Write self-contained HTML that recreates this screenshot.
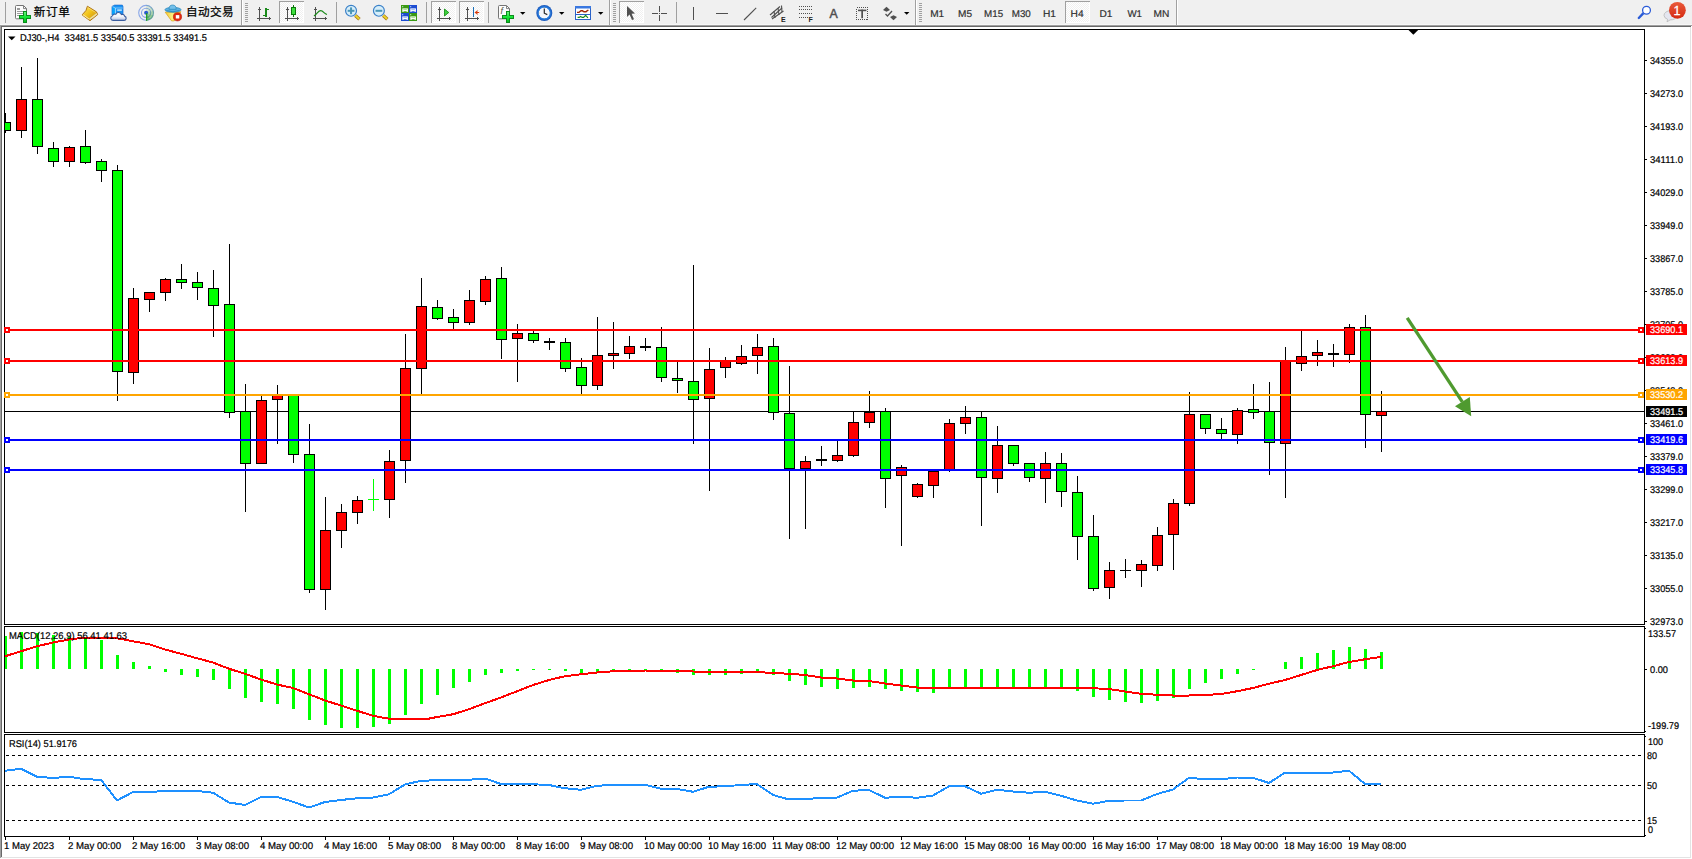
<!DOCTYPE html>
<html lang="zh"><head><meta charset="utf-8"><title>DJ30-,H4</title>
<style>html,body{margin:0;padding:0;background:#f0f0f0;overflow:hidden}body{width:1692px;height:859px;position:relative}svg{position:absolute;left:0;top:0;display:block}svg text{font-family:"Liberation Sans","Noto Sans CJK SC",sans-serif}.cr{shape-rendering:crispEdges}</style></head><body>
<svg width="1692" height="859" viewBox="0 0 1692 859">
<g class="cr">
<rect x="0" y="0" width="1692" height="25" fill="#f0f0f0"/>
<rect x="0" y="24" width="1692" height="1" fill="#f7f7f7"/>
<rect x="0" y="25" width="1692" height="1" fill="#a0a0a0"/>
<rect x="0" y="26" width="1692" height="1" fill="#696969"/>
<rect x="0" y="27" width="1692" height="832" fill="#ffffff"/>
<rect x="0" y="25" width="1" height="834" fill="#a0a0a0"/>
<rect x="1" y="26" width="1" height="833" fill="#696969"/>
<rect x="1690" y="27" width="1" height="832" fill="#e3e3e3"/>
<rect x="1691" y="26" width="1" height="833" fill="#ffffff"/>
<rect x="1" y="857" width="1690" height="1" fill="#e3e3e3"/>
<rect x="0" y="858" width="1692" height="1" fill="#ffffff"/>
<rect x="4" y="29" width="1641" height="1" fill="#000"/>
<rect x="4" y="624" width="1641" height="1" fill="#000"/>
<rect x="4" y="29" width="1" height="596" fill="#000"/>
<rect x="1644" y="29" width="1" height="596" fill="#000"/>
<rect x="4" y="626" width="1641" height="1" fill="#000"/>
<rect x="4" y="732" width="1641" height="1" fill="#000"/>
<rect x="4" y="626" width="1" height="107" fill="#000"/>
<rect x="1644" y="626" width="1" height="107" fill="#000"/>
<rect x="4" y="734" width="1641" height="1" fill="#000"/>
<rect x="4" y="836" width="1641" height="1" fill="#000"/>
<rect x="4" y="734" width="1" height="103" fill="#000"/>
<rect x="1644" y="734" width="1" height="103" fill="#000"/>
</g>
<defs><clipPath id="cm"><rect x="5" y="30" width="1639" height="594"/></clipPath><clipPath id="cd"><rect x="5" y="627" width="1639" height="105"/></clipPath><clipPath id="cs"><rect x="5" y="735" width="1639" height="101"/></clipPath></defs>
<g class="cr" clip-path="url(#cm)">
<rect x="5" y="411" width="1639" height="1" fill="#000"/>
<rect x="5" y="113" width="1" height="20" fill="#000"/>
<rect x="0" y="122" width="11" height="9" fill="#000"/>
<rect x="1" y="123" width="9" height="7" fill="#00ff00"/>
<rect x="21" y="67" width="1" height="71" fill="#000"/>
<rect x="16" y="99" width="11" height="32" fill="#000"/>
<rect x="17" y="100" width="9" height="30" fill="#ff0000"/>
<rect x="37" y="58" width="1" height="96" fill="#000"/>
<rect x="32" y="99" width="11" height="48" fill="#000"/>
<rect x="33" y="100" width="9" height="46" fill="#00ff00"/>
<rect x="53" y="142" width="1" height="25" fill="#000"/>
<rect x="48" y="148" width="11" height="14" fill="#000"/>
<rect x="49" y="149" width="9" height="12" fill="#00ff00"/>
<rect x="69" y="146" width="1" height="21" fill="#000"/>
<rect x="64" y="147" width="11" height="15" fill="#000"/>
<rect x="65" y="148" width="9" height="13" fill="#ff0000"/>
<rect x="85" y="130" width="1" height="34" fill="#000"/>
<rect x="80" y="146" width="11" height="17" fill="#000"/>
<rect x="81" y="147" width="9" height="15" fill="#00ff00"/>
<rect x="101" y="159" width="1" height="23" fill="#000"/>
<rect x="96" y="161" width="11" height="10" fill="#000"/>
<rect x="97" y="162" width="9" height="8" fill="#00ff00"/>
<rect x="117" y="165" width="1" height="236" fill="#000"/>
<rect x="112" y="170" width="11" height="202" fill="#000"/>
<rect x="113" y="171" width="9" height="200" fill="#00ff00"/>
<rect x="133" y="288" width="1" height="96" fill="#000"/>
<rect x="128" y="298" width="11" height="75" fill="#000"/>
<rect x="129" y="299" width="9" height="73" fill="#ff0000"/>
<rect x="149" y="292" width="1" height="20" fill="#000"/>
<rect x="144" y="292" width="11" height="8" fill="#000"/>
<rect x="145" y="293" width="9" height="6" fill="#ff0000"/>
<rect x="165" y="278" width="1" height="23" fill="#000"/>
<rect x="160" y="279" width="11" height="14" fill="#000"/>
<rect x="161" y="280" width="9" height="12" fill="#ff0000"/>
<rect x="181" y="264" width="1" height="25" fill="#000"/>
<rect x="176" y="279" width="11" height="4" fill="#000"/>
<rect x="177" y="280" width="9" height="2" fill="#00ff00"/>
<rect x="197" y="272" width="1" height="28" fill="#000"/>
<rect x="192" y="282" width="11" height="6" fill="#000"/>
<rect x="193" y="283" width="9" height="4" fill="#00ff00"/>
<rect x="213" y="270" width="1" height="67" fill="#000"/>
<rect x="208" y="288" width="11" height="18" fill="#000"/>
<rect x="209" y="289" width="9" height="16" fill="#00ff00"/>
<rect x="229" y="244" width="1" height="174" fill="#000"/>
<rect x="224" y="304" width="11" height="109" fill="#000"/>
<rect x="225" y="305" width="9" height="107" fill="#00ff00"/>
<rect x="245" y="384" width="1" height="128" fill="#000"/>
<rect x="240" y="411" width="11" height="53" fill="#000"/>
<rect x="241" y="412" width="9" height="51" fill="#00ff00"/>
<rect x="261" y="395" width="1" height="69" fill="#000"/>
<rect x="256" y="400" width="11" height="64" fill="#000"/>
<rect x="257" y="401" width="9" height="62" fill="#ff0000"/>
<rect x="277" y="385" width="1" height="59" fill="#000"/>
<rect x="272" y="395" width="11" height="5" fill="#000"/>
<rect x="273" y="396" width="9" height="3" fill="#ff0000"/>
<rect x="293" y="395" width="1" height="68" fill="#000"/>
<rect x="288" y="395" width="11" height="60" fill="#000"/>
<rect x="289" y="396" width="9" height="58" fill="#00ff00"/>
<rect x="309" y="424" width="1" height="169" fill="#000"/>
<rect x="304" y="454" width="11" height="136" fill="#000"/>
<rect x="305" y="455" width="9" height="134" fill="#00ff00"/>
<rect x="325" y="497" width="1" height="113" fill="#000"/>
<rect x="320" y="530" width="11" height="60" fill="#000"/>
<rect x="321" y="531" width="9" height="58" fill="#ff0000"/>
<rect x="341" y="504" width="1" height="44" fill="#000"/>
<rect x="336" y="512" width="11" height="19" fill="#000"/>
<rect x="337" y="513" width="9" height="17" fill="#ff0000"/>
<rect x="357" y="496" width="1" height="28" fill="#000"/>
<rect x="352" y="500" width="11" height="13" fill="#000"/>
<rect x="353" y="501" width="9" height="11" fill="#ff0000"/>
<rect x="373" y="479" width="1" height="32" fill="#00ff00"/>
<rect x="368" y="499" width="11" height="1" fill="#00ff00"/>
<rect x="389" y="450" width="1" height="68" fill="#000"/>
<rect x="384" y="461" width="11" height="39" fill="#000"/>
<rect x="385" y="462" width="9" height="37" fill="#ff0000"/>
<rect x="405" y="334" width="1" height="149" fill="#000"/>
<rect x="400" y="368" width="11" height="93" fill="#000"/>
<rect x="401" y="369" width="9" height="91" fill="#ff0000"/>
<rect x="421" y="278" width="1" height="116" fill="#000"/>
<rect x="416" y="306" width="11" height="63" fill="#000"/>
<rect x="417" y="307" width="9" height="61" fill="#ff0000"/>
<rect x="437" y="300" width="1" height="20" fill="#000"/>
<rect x="432" y="307" width="11" height="12" fill="#000"/>
<rect x="433" y="308" width="9" height="10" fill="#00ff00"/>
<rect x="453" y="309" width="1" height="20" fill="#000"/>
<rect x="448" y="317" width="11" height="6" fill="#000"/>
<rect x="449" y="318" width="9" height="4" fill="#00ff00"/>
<rect x="469" y="290" width="1" height="35" fill="#000"/>
<rect x="464" y="300" width="11" height="23" fill="#000"/>
<rect x="465" y="301" width="9" height="21" fill="#ff0000"/>
<rect x="485" y="276" width="1" height="29" fill="#000"/>
<rect x="480" y="279" width="11" height="23" fill="#000"/>
<rect x="481" y="280" width="9" height="21" fill="#ff0000"/>
<rect x="501" y="267" width="1" height="92" fill="#000"/>
<rect x="496" y="278" width="11" height="62" fill="#000"/>
<rect x="497" y="279" width="9" height="60" fill="#00ff00"/>
<rect x="517" y="324" width="1" height="58" fill="#000"/>
<rect x="512" y="333" width="11" height="6" fill="#000"/>
<rect x="513" y="334" width="9" height="4" fill="#ff0000"/>
<rect x="533" y="331" width="1" height="12" fill="#000"/>
<rect x="528" y="333" width="11" height="8" fill="#000"/>
<rect x="529" y="334" width="9" height="6" fill="#00ff00"/>
<rect x="549" y="338" width="1" height="12" fill="#000"/>
<rect x="544" y="341" width="11" height="2" fill="#000"/>
<rect x="565" y="338" width="1" height="34" fill="#000"/>
<rect x="560" y="342" width="11" height="27" fill="#000"/>
<rect x="561" y="343" width="9" height="25" fill="#00ff00"/>
<rect x="581" y="358" width="1" height="36" fill="#000"/>
<rect x="576" y="367" width="11" height="19" fill="#000"/>
<rect x="577" y="368" width="9" height="17" fill="#00ff00"/>
<rect x="597" y="317" width="1" height="73" fill="#000"/>
<rect x="592" y="355" width="11" height="31" fill="#000"/>
<rect x="593" y="356" width="9" height="29" fill="#ff0000"/>
<rect x="613" y="322" width="1" height="47" fill="#000"/>
<rect x="608" y="353" width="11" height="3" fill="#000"/>
<rect x="609" y="354" width="9" height="1" fill="#ff0000"/>
<rect x="629" y="336" width="1" height="23" fill="#000"/>
<rect x="624" y="346" width="11" height="8" fill="#000"/>
<rect x="625" y="347" width="9" height="6" fill="#ff0000"/>
<rect x="645" y="338" width="1" height="13" fill="#000"/>
<rect x="640" y="346" width="11" height="2" fill="#000"/>
<rect x="661" y="327" width="1" height="55" fill="#000"/>
<rect x="656" y="347" width="11" height="31" fill="#000"/>
<rect x="657" y="348" width="9" height="29" fill="#00ff00"/>
<rect x="677" y="362" width="1" height="31" fill="#000"/>
<rect x="672" y="378" width="11" height="3" fill="#000"/>
<rect x="673" y="379" width="9" height="1" fill="#00ff00"/>
<rect x="693" y="265" width="1" height="179" fill="#000"/>
<rect x="688" y="381" width="11" height="19" fill="#000"/>
<rect x="689" y="382" width="9" height="17" fill="#00ff00"/>
<rect x="709" y="348" width="1" height="143" fill="#000"/>
<rect x="704" y="369" width="11" height="30" fill="#000"/>
<rect x="705" y="370" width="9" height="28" fill="#ff0000"/>
<rect x="725" y="357" width="1" height="21" fill="#000"/>
<rect x="720" y="361" width="11" height="7" fill="#000"/>
<rect x="721" y="362" width="9" height="5" fill="#ff0000"/>
<rect x="741" y="345" width="1" height="20" fill="#000"/>
<rect x="736" y="356" width="11" height="8" fill="#000"/>
<rect x="737" y="357" width="9" height="6" fill="#ff0000"/>
<rect x="757" y="334" width="1" height="40" fill="#000"/>
<rect x="752" y="347" width="11" height="9" fill="#000"/>
<rect x="753" y="348" width="9" height="7" fill="#ff0000"/>
<rect x="773" y="338" width="1" height="82" fill="#000"/>
<rect x="768" y="346" width="11" height="67" fill="#000"/>
<rect x="769" y="347" width="9" height="65" fill="#00ff00"/>
<rect x="789" y="366" width="1" height="173" fill="#000"/>
<rect x="784" y="413" width="11" height="56" fill="#000"/>
<rect x="785" y="414" width="9" height="54" fill="#00ff00"/>
<rect x="805" y="456" width="1" height="73" fill="#000"/>
<rect x="800" y="461" width="11" height="8" fill="#000"/>
<rect x="801" y="462" width="9" height="6" fill="#ff0000"/>
<rect x="821" y="446" width="1" height="20" fill="#000"/>
<rect x="816" y="459" width="11" height="2" fill="#000"/>
<rect x="837" y="441" width="1" height="21" fill="#000"/>
<rect x="832" y="455" width="11" height="6" fill="#000"/>
<rect x="833" y="456" width="9" height="4" fill="#ff0000"/>
<rect x="853" y="411" width="1" height="46" fill="#000"/>
<rect x="848" y="422" width="11" height="34" fill="#000"/>
<rect x="849" y="423" width="9" height="32" fill="#ff0000"/>
<rect x="869" y="391" width="1" height="37" fill="#000"/>
<rect x="864" y="412" width="11" height="11" fill="#000"/>
<rect x="865" y="413" width="9" height="9" fill="#ff0000"/>
<rect x="885" y="408" width="1" height="100" fill="#000"/>
<rect x="880" y="411" width="11" height="68" fill="#000"/>
<rect x="881" y="412" width="9" height="66" fill="#00ff00"/>
<rect x="901" y="465" width="1" height="81" fill="#000"/>
<rect x="896" y="467" width="11" height="9" fill="#000"/>
<rect x="897" y="468" width="9" height="7" fill="#ff0000"/>
<rect x="917" y="483" width="1" height="15" fill="#000"/>
<rect x="912" y="484" width="11" height="13" fill="#000"/>
<rect x="913" y="485" width="9" height="11" fill="#ff0000"/>
<rect x="933" y="471" width="1" height="27" fill="#000"/>
<rect x="928" y="471" width="11" height="15" fill="#000"/>
<rect x="929" y="472" width="9" height="13" fill="#ff0000"/>
<rect x="949" y="419" width="1" height="53" fill="#000"/>
<rect x="944" y="423" width="11" height="47" fill="#000"/>
<rect x="945" y="424" width="9" height="45" fill="#ff0000"/>
<rect x="965" y="406" width="1" height="28" fill="#000"/>
<rect x="960" y="417" width="11" height="7" fill="#000"/>
<rect x="961" y="418" width="9" height="5" fill="#ff0000"/>
<rect x="981" y="411" width="1" height="115" fill="#000"/>
<rect x="976" y="417" width="11" height="61" fill="#000"/>
<rect x="977" y="418" width="9" height="59" fill="#00ff00"/>
<rect x="997" y="426" width="1" height="67" fill="#000"/>
<rect x="992" y="445" width="11" height="34" fill="#000"/>
<rect x="993" y="446" width="9" height="32" fill="#ff0000"/>
<rect x="1013" y="445" width="1" height="21" fill="#000"/>
<rect x="1008" y="445" width="11" height="19" fill="#000"/>
<rect x="1009" y="446" width="9" height="17" fill="#00ff00"/>
<rect x="1029" y="463" width="1" height="19" fill="#000"/>
<rect x="1024" y="463" width="11" height="15" fill="#000"/>
<rect x="1025" y="464" width="9" height="13" fill="#00ff00"/>
<rect x="1045" y="452" width="1" height="51" fill="#000"/>
<rect x="1040" y="463" width="11" height="16" fill="#000"/>
<rect x="1041" y="464" width="9" height="14" fill="#ff0000"/>
<rect x="1061" y="453" width="1" height="54" fill="#000"/>
<rect x="1056" y="463" width="11" height="29" fill="#000"/>
<rect x="1057" y="464" width="9" height="27" fill="#00ff00"/>
<rect x="1077" y="476" width="1" height="84" fill="#000"/>
<rect x="1072" y="492" width="11" height="45" fill="#000"/>
<rect x="1073" y="493" width="9" height="43" fill="#00ff00"/>
<rect x="1093" y="515" width="1" height="76" fill="#000"/>
<rect x="1088" y="536" width="11" height="53" fill="#000"/>
<rect x="1089" y="537" width="9" height="51" fill="#00ff00"/>
<rect x="1109" y="562" width="1" height="37" fill="#000"/>
<rect x="1104" y="570" width="11" height="18" fill="#000"/>
<rect x="1105" y="571" width="9" height="16" fill="#ff0000"/>
<rect x="1125" y="559" width="1" height="19" fill="#000"/>
<rect x="1120" y="570" width="11" height="1" fill="#000"/>
<rect x="1141" y="560" width="1" height="27" fill="#000"/>
<rect x="1136" y="564" width="11" height="7" fill="#000"/>
<rect x="1137" y="565" width="9" height="5" fill="#ff0000"/>
<rect x="1157" y="527" width="1" height="44" fill="#000"/>
<rect x="1152" y="535" width="11" height="31" fill="#000"/>
<rect x="1153" y="536" width="9" height="29" fill="#ff0000"/>
<rect x="1173" y="499" width="1" height="71" fill="#000"/>
<rect x="1168" y="503" width="11" height="32" fill="#000"/>
<rect x="1169" y="504" width="9" height="30" fill="#ff0000"/>
<rect x="1189" y="392" width="1" height="114" fill="#000"/>
<rect x="1184" y="414" width="11" height="90" fill="#000"/>
<rect x="1185" y="415" width="9" height="88" fill="#ff0000"/>
<rect x="1205" y="414" width="1" height="20" fill="#000"/>
<rect x="1200" y="414" width="11" height="15" fill="#000"/>
<rect x="1201" y="415" width="9" height="13" fill="#00ff00"/>
<rect x="1221" y="418" width="1" height="21" fill="#000"/>
<rect x="1216" y="429" width="11" height="5" fill="#000"/>
<rect x="1217" y="430" width="9" height="3" fill="#00ff00"/>
<rect x="1237" y="408" width="1" height="36" fill="#000"/>
<rect x="1232" y="410" width="11" height="25" fill="#000"/>
<rect x="1233" y="411" width="9" height="23" fill="#ff0000"/>
<rect x="1253" y="384" width="1" height="35" fill="#000"/>
<rect x="1248" y="409" width="11" height="4" fill="#000"/>
<rect x="1249" y="410" width="9" height="2" fill="#00ff00"/>
<rect x="1269" y="382" width="1" height="93" fill="#000"/>
<rect x="1264" y="411" width="11" height="32" fill="#000"/>
<rect x="1265" y="412" width="9" height="30" fill="#00ff00"/>
<rect x="1285" y="347" width="1" height="151" fill="#000"/>
<rect x="1280" y="360" width="11" height="84" fill="#000"/>
<rect x="1281" y="361" width="9" height="82" fill="#ff0000"/>
<rect x="1301" y="331" width="1" height="40" fill="#000"/>
<rect x="1296" y="356" width="11" height="8" fill="#000"/>
<rect x="1297" y="357" width="9" height="6" fill="#ff0000"/>
<rect x="1317" y="340" width="1" height="26" fill="#000"/>
<rect x="1312" y="352" width="11" height="4" fill="#000"/>
<rect x="1313" y="353" width="9" height="2" fill="#ff0000"/>
<rect x="1333" y="344" width="1" height="23" fill="#000"/>
<rect x="1328" y="353" width="11" height="2" fill="#000"/>
<rect x="1349" y="324" width="1" height="39" fill="#000"/>
<rect x="1344" y="327" width="11" height="28" fill="#000"/>
<rect x="1345" y="328" width="9" height="26" fill="#ff0000"/>
<rect x="1365" y="315" width="1" height="133" fill="#000"/>
<rect x="1360" y="327" width="11" height="88" fill="#000"/>
<rect x="1361" y="328" width="9" height="86" fill="#00ff00"/>
<rect x="1381" y="391" width="1" height="61" fill="#000"/>
<rect x="1376" y="411" width="11" height="5" fill="#000"/>
<rect x="1377" y="412" width="9" height="3" fill="#ff0000"/>
<polygon points="1408.5,30 1418.2,30 1413.35,34.8" fill="#000" shape-rendering="auto"/>
</g>
<g class="cr">
<rect x="5" y="329" width="1639" height="2" fill="#ff0000"/>
<rect x="4" y="327" width="6" height="6" fill="#ff0000"/>
<rect x="6" y="329" width="2" height="2" fill="#fff"/>
<rect x="1638" y="327" width="6" height="6" fill="#ff0000"/>
<rect x="1640" y="329" width="2" height="2" fill="#fff"/>
<rect x="5" y="360" width="1639" height="2" fill="#ff0000"/>
<rect x="4" y="358" width="6" height="6" fill="#ff0000"/>
<rect x="6" y="360" width="2" height="2" fill="#fff"/>
<rect x="1638" y="358" width="6" height="6" fill="#ff0000"/>
<rect x="1640" y="360" width="2" height="2" fill="#fff"/>
<rect x="5" y="394" width="1639" height="2" fill="#ffa500"/>
<rect x="4" y="392" width="6" height="6" fill="#ffa500"/>
<rect x="6" y="394" width="2" height="2" fill="#fff"/>
<rect x="1638" y="392" width="6" height="6" fill="#ffa500"/>
<rect x="1640" y="394" width="2" height="2" fill="#fff"/>
<rect x="5" y="439" width="1639" height="2" fill="#0000ff"/>
<rect x="4" y="437" width="6" height="6" fill="#0000ff"/>
<rect x="6" y="439" width="2" height="2" fill="#fff"/>
<rect x="1638" y="437" width="6" height="6" fill="#0000ff"/>
<rect x="1640" y="439" width="2" height="2" fill="#fff"/>
<rect x="5" y="469" width="1639" height="2" fill="#0000ff"/>
<rect x="4" y="467" width="6" height="6" fill="#0000ff"/>
<rect x="6" y="469" width="2" height="2" fill="#fff"/>
<rect x="1638" y="467" width="6" height="6" fill="#0000ff"/>
<rect x="1640" y="469" width="2" height="2" fill="#fff"/>
</g>
<line x1="1407.2" y1="317.8" x2="1462.3" y2="401.8" stroke="#4f9a2f" stroke-width="3.3"/>
<polygon points="1471.2,416.2 1455,406.3 1469.8,397" fill="#4f9a2f"/>
<g class="cr">
<rect x="1645" y="60" width="2" height="1" fill="#000"/>
<rect x="1645" y="93" width="2" height="1" fill="#000"/>
<rect x="1645" y="126" width="2" height="1" fill="#000"/>
<rect x="1645" y="159" width="2" height="1" fill="#000"/>
<rect x="1645" y="192" width="2" height="1" fill="#000"/>
<rect x="1645" y="225" width="2" height="1" fill="#000"/>
<rect x="1645" y="258" width="2" height="1" fill="#000"/>
<rect x="1645" y="291" width="2" height="1" fill="#000"/>
<rect x="1645" y="324" width="2" height="1" fill="#000"/>
<rect x="1645" y="357" width="2" height="1" fill="#000"/>
<rect x="1645" y="390" width="2" height="1" fill="#000"/>
<rect x="1645" y="423" width="2" height="1" fill="#000"/>
<rect x="1645" y="456" width="2" height="1" fill="#000"/>
<rect x="1645" y="489" width="2" height="1" fill="#000"/>
<rect x="1645" y="522" width="2" height="1" fill="#000"/>
<rect x="1645" y="555" width="2" height="1" fill="#000"/>
<rect x="1645" y="588" width="2" height="1" fill="#000"/>
<rect x="1645" y="621" width="2" height="1" fill="#000"/>
</g>
<text x="1650" y="64" font-size="9.75" fill="#000" stroke="#000" stroke-width="0.2" text-rendering="geometricPrecision" xml:space="preserve" textLength="33" lengthAdjust="spacingAndGlyphs">34355.0</text>
<text x="1650" y="97" font-size="9.75" fill="#000" stroke="#000" stroke-width="0.2" text-rendering="geometricPrecision" xml:space="preserve" textLength="33" lengthAdjust="spacingAndGlyphs">34273.0</text>
<text x="1650" y="130" font-size="9.75" fill="#000" stroke="#000" stroke-width="0.2" text-rendering="geometricPrecision" xml:space="preserve" textLength="33" lengthAdjust="spacingAndGlyphs">34193.0</text>
<text x="1650" y="163" font-size="9.75" fill="#000" stroke="#000" stroke-width="0.2" text-rendering="geometricPrecision" xml:space="preserve" textLength="33" lengthAdjust="spacingAndGlyphs">34111.0</text>
<text x="1650" y="196" font-size="9.75" fill="#000" stroke="#000" stroke-width="0.2" text-rendering="geometricPrecision" xml:space="preserve" textLength="33" lengthAdjust="spacingAndGlyphs">34029.0</text>
<text x="1650" y="229" font-size="9.75" fill="#000" stroke="#000" stroke-width="0.2" text-rendering="geometricPrecision" xml:space="preserve" textLength="33" lengthAdjust="spacingAndGlyphs">33949.0</text>
<text x="1650" y="262" font-size="9.75" fill="#000" stroke="#000" stroke-width="0.2" text-rendering="geometricPrecision" xml:space="preserve" textLength="33" lengthAdjust="spacingAndGlyphs">33867.0</text>
<text x="1650" y="295" font-size="9.75" fill="#000" stroke="#000" stroke-width="0.2" text-rendering="geometricPrecision" xml:space="preserve" textLength="33" lengthAdjust="spacingAndGlyphs">33785.0</text>
<text x="1650" y="328" font-size="9.75" fill="#000" stroke="#000" stroke-width="0.2" text-rendering="geometricPrecision" xml:space="preserve" textLength="33" lengthAdjust="spacingAndGlyphs">33705.0</text>
<text x="1650" y="361" font-size="9.75" fill="#000" stroke="#000" stroke-width="0.2" text-rendering="geometricPrecision" xml:space="preserve" textLength="33" lengthAdjust="spacingAndGlyphs">33623.0</text>
<text x="1650" y="394" font-size="9.75" fill="#000" stroke="#000" stroke-width="0.2" text-rendering="geometricPrecision" xml:space="preserve" textLength="33" lengthAdjust="spacingAndGlyphs">33543.0</text>
<text x="1650" y="427" font-size="9.75" fill="#000" stroke="#000" stroke-width="0.2" text-rendering="geometricPrecision" xml:space="preserve" textLength="33" lengthAdjust="spacingAndGlyphs">33461.0</text>
<text x="1650" y="460" font-size="9.75" fill="#000" stroke="#000" stroke-width="0.2" text-rendering="geometricPrecision" xml:space="preserve" textLength="33" lengthAdjust="spacingAndGlyphs">33379.0</text>
<text x="1650" y="493" font-size="9.75" fill="#000" stroke="#000" stroke-width="0.2" text-rendering="geometricPrecision" xml:space="preserve" textLength="33" lengthAdjust="spacingAndGlyphs">33299.0</text>
<text x="1650" y="526" font-size="9.75" fill="#000" stroke="#000" stroke-width="0.2" text-rendering="geometricPrecision" xml:space="preserve" textLength="33" lengthAdjust="spacingAndGlyphs">33217.0</text>
<text x="1650" y="559" font-size="9.75" fill="#000" stroke="#000" stroke-width="0.2" text-rendering="geometricPrecision" xml:space="preserve" textLength="33" lengthAdjust="spacingAndGlyphs">33135.0</text>
<text x="1650" y="592" font-size="9.75" fill="#000" stroke="#000" stroke-width="0.2" text-rendering="geometricPrecision" xml:space="preserve" textLength="33" lengthAdjust="spacingAndGlyphs">33055.0</text>
<text x="1650" y="625" font-size="9.75" fill="#000" stroke="#000" stroke-width="0.2" text-rendering="geometricPrecision" xml:space="preserve" textLength="33" lengthAdjust="spacingAndGlyphs">32973.0</text>
<g class="cr">
<rect x="1646" y="324" width="41" height="11" fill="#ff0000"/>
<rect x="1646" y="355" width="41" height="11" fill="#ff0000"/>
<rect x="1646" y="389" width="41" height="11" fill="#ffa500"/>
<rect x="1646" y="434" width="41" height="11" fill="#0000ff"/>
<rect x="1646" y="464" width="41" height="11" fill="#0000ff"/>
<rect x="1646" y="406" width="41" height="11" fill="#000"/>
</g>
<text x="1650" y="333" font-size="9.75" fill="#fff" stroke="#fff" stroke-width="0.2" text-rendering="geometricPrecision" xml:space="preserve" textLength="33" lengthAdjust="spacingAndGlyphs">33690.1</text>
<text x="1650" y="364" font-size="9.75" fill="#fff" stroke="#fff" stroke-width="0.2" text-rendering="geometricPrecision" xml:space="preserve" textLength="33" lengthAdjust="spacingAndGlyphs">33613.9</text>
<text x="1650" y="398" font-size="9.75" fill="#fff" stroke="#fff" stroke-width="0.2" text-rendering="geometricPrecision" xml:space="preserve" textLength="33" lengthAdjust="spacingAndGlyphs">33530.2</text>
<text x="1650" y="443" font-size="9.75" fill="#fff" stroke="#fff" stroke-width="0.2" text-rendering="geometricPrecision" xml:space="preserve" textLength="33" lengthAdjust="spacingAndGlyphs">33419.6</text>
<text x="1650" y="473" font-size="9.75" fill="#fff" stroke="#fff" stroke-width="0.2" text-rendering="geometricPrecision" xml:space="preserve" textLength="33" lengthAdjust="spacingAndGlyphs">33345.8</text>
<text x="1650" y="415" font-size="9.75" fill="#fff" stroke="#fff" stroke-width="0.2" text-rendering="geometricPrecision" xml:space="preserve" textLength="33" lengthAdjust="spacingAndGlyphs">33491.5</text>
<polygon points="8,36.5 15.5,36.5 11.75,40.3" fill="#000"/>
<text x="20" y="41" font-size="9.75" fill="#000" stroke="#000" stroke-width="0.2" text-rendering="geometricPrecision" xml:space="preserve" textLength="187" lengthAdjust="spacingAndGlyphs">DJ30-,H4  33481.5 33540.5 33391.5 33491.5</text>
<g class="cr" clip-path="url(#cd)">
<rect x="4" y="636" width="3" height="33" fill="#00ff00"/>
<rect x="20" y="632" width="3" height="37" fill="#00ff00"/>
<rect x="36" y="633" width="3" height="36" fill="#00ff00"/>
<rect x="52" y="635" width="3" height="34" fill="#00ff00"/>
<rect x="68" y="637" width="3" height="32" fill="#00ff00"/>
<rect x="84" y="638" width="3" height="31" fill="#00ff00"/>
<rect x="100" y="640" width="3" height="29" fill="#00ff00"/>
<rect x="116" y="655" width="3" height="14" fill="#00ff00"/>
<rect x="132" y="662" width="3" height="7" fill="#00ff00"/>
<rect x="148" y="666" width="3" height="3" fill="#00ff00"/>
<rect x="164" y="669" width="3" height="3" fill="#00ff00"/>
<rect x="180" y="669" width="3" height="6" fill="#00ff00"/>
<rect x="196" y="669" width="3" height="8" fill="#00ff00"/>
<rect x="212" y="669" width="3" height="11" fill="#00ff00"/>
<rect x="228" y="669" width="3" height="20" fill="#00ff00"/>
<rect x="244" y="669" width="3" height="29" fill="#00ff00"/>
<rect x="260" y="669" width="3" height="33" fill="#00ff00"/>
<rect x="276" y="669" width="3" height="35" fill="#00ff00"/>
<rect x="292" y="669" width="3" height="40" fill="#00ff00"/>
<rect x="308" y="669" width="3" height="51" fill="#00ff00"/>
<rect x="324" y="669" width="3" height="56" fill="#00ff00"/>
<rect x="340" y="669" width="3" height="59" fill="#00ff00"/>
<rect x="356" y="669" width="3" height="59" fill="#00ff00"/>
<rect x="372" y="669" width="3" height="58" fill="#00ff00"/>
<rect x="388" y="669" width="3" height="55" fill="#00ff00"/>
<rect x="404" y="669" width="3" height="46" fill="#00ff00"/>
<rect x="420" y="669" width="3" height="35" fill="#00ff00"/>
<rect x="436" y="669" width="3" height="26" fill="#00ff00"/>
<rect x="452" y="669" width="3" height="19" fill="#00ff00"/>
<rect x="468" y="669" width="3" height="13" fill="#00ff00"/>
<rect x="484" y="669" width="3" height="6" fill="#00ff00"/>
<rect x="500" y="669" width="3" height="4" fill="#00ff00"/>
<rect x="516" y="669" width="3" height="2" fill="#00ff00"/>
<rect x="532" y="669" width="3" height="1" fill="#00ff00"/>
<rect x="548" y="669" width="3" height="1" fill="#00ff00"/>
<rect x="564" y="669" width="3" height="2" fill="#00ff00"/>
<rect x="580" y="669" width="3" height="5" fill="#00ff00"/>
<rect x="596" y="669" width="3" height="4" fill="#00ff00"/>
<rect x="612" y="669" width="3" height="3" fill="#00ff00"/>
<rect x="628" y="669" width="3" height="2" fill="#00ff00"/>
<rect x="644" y="669" width="3" height="1" fill="#00ff00"/>
<rect x="660" y="669" width="3" height="2" fill="#00ff00"/>
<rect x="676" y="669" width="3" height="4" fill="#00ff00"/>
<rect x="692" y="669" width="3" height="6" fill="#00ff00"/>
<rect x="708" y="669" width="3" height="6" fill="#00ff00"/>
<rect x="724" y="669" width="3" height="6" fill="#00ff00"/>
<rect x="740" y="669" width="3" height="5" fill="#00ff00"/>
<rect x="756" y="669" width="3" height="4" fill="#00ff00"/>
<rect x="772" y="669" width="3" height="6" fill="#00ff00"/>
<rect x="788" y="669" width="3" height="12" fill="#00ff00"/>
<rect x="804" y="669" width="3" height="16" fill="#00ff00"/>
<rect x="820" y="669" width="3" height="18" fill="#00ff00"/>
<rect x="836" y="669" width="3" height="20" fill="#00ff00"/>
<rect x="852" y="669" width="3" height="19" fill="#00ff00"/>
<rect x="868" y="669" width="3" height="18" fill="#00ff00"/>
<rect x="884" y="669" width="3" height="20" fill="#00ff00"/>
<rect x="900" y="669" width="3" height="22" fill="#00ff00"/>
<rect x="916" y="669" width="3" height="23" fill="#00ff00"/>
<rect x="932" y="669" width="3" height="24" fill="#00ff00"/>
<rect x="948" y="669" width="3" height="20" fill="#00ff00"/>
<rect x="964" y="669" width="3" height="18" fill="#00ff00"/>
<rect x="980" y="669" width="3" height="20" fill="#00ff00"/>
<rect x="996" y="669" width="3" height="20" fill="#00ff00"/>
<rect x="1012" y="669" width="3" height="20" fill="#00ff00"/>
<rect x="1028" y="669" width="3" height="20" fill="#00ff00"/>
<rect x="1044" y="669" width="3" height="20" fill="#00ff00"/>
<rect x="1060" y="669" width="3" height="19" fill="#00ff00"/>
<rect x="1076" y="669" width="3" height="22" fill="#00ff00"/>
<rect x="1092" y="669" width="3" height="28" fill="#00ff00"/>
<rect x="1108" y="669" width="3" height="31" fill="#00ff00"/>
<rect x="1124" y="669" width="3" height="33" fill="#00ff00"/>
<rect x="1140" y="669" width="3" height="34" fill="#00ff00"/>
<rect x="1156" y="669" width="3" height="32" fill="#00ff00"/>
<rect x="1172" y="669" width="3" height="29" fill="#00ff00"/>
<rect x="1188" y="669" width="3" height="20" fill="#00ff00"/>
<rect x="1204" y="669" width="3" height="14" fill="#00ff00"/>
<rect x="1220" y="669" width="3" height="10" fill="#00ff00"/>
<rect x="1236" y="669" width="3" height="5" fill="#00ff00"/>
<rect x="1252" y="669" width="3" height="1" fill="#00ff00"/>
<rect x="1268" y="669" width="3" height="0" fill="#00ff00"/>
<rect x="1284" y="662" width="3" height="7" fill="#00ff00"/>
<rect x="1300" y="657" width="3" height="12" fill="#00ff00"/>
<rect x="1316" y="653" width="3" height="16" fill="#00ff00"/>
<rect x="1332" y="650" width="3" height="19" fill="#00ff00"/>
<rect x="1348" y="647" width="3" height="22" fill="#00ff00"/>
<rect x="1364" y="649" width="3" height="20" fill="#00ff00"/>
<rect x="1380" y="652" width="3" height="17" fill="#00ff00"/>
</g>
<polyline points="5,656.25 21,651.25 37,646.25 53,642.5 69,639.5 85,637.5 101,637.5 117,638.25 133,641.25 149,644.25 165,649.5 181,653.75 197,658.25 213,662.5 229,668.75 245,673.75 261,679.5 277,684.5 293,688 309,694.25 325,700.5 341,705.5 357,710.75 373,715.75 389,718.75 405,719 427,719 437,717 453,714.25 469,709.25 485,703.25 501,697.5 517,691.25 533,685 549,680 565,676.25 581,674.25 597,672.5 613,671.25 629,671 645,670.5 661,670.75 677,671 693,671.5 709,671.75 725,671.75 741,671.75 757,672 773,673 789,673.75 805,675 821,677.5 837,678.5 853,680.5 869,681 885,683.5 901,685.5 917,687.5 933,688.25 949,688.25 965,688.25 981,688 997,687.5 1061,687.5 1077,687.5 1093,688.25 1109,689 1125,691.5 1141,693.75 1157,694.75 1173,695.5 1189,695.5 1205,695 1221,694 1237,691.25 1253,688 1269,683.75 1285,680 1301,675 1317,670 1333,666.25 1349,662 1365,659.25 1381,657" fill="none" stroke="#ff0000" stroke-width="2" stroke-linejoin="round" shape-rendering="crispEdges" clip-path="url(#cd)"/>
<text x="9" y="639" font-size="9.75" fill="#000" stroke="#000" stroke-width="0.2" text-rendering="geometricPrecision" xml:space="preserve" textLength="118" lengthAdjust="spacingAndGlyphs">MACD(12,26,9) 56.41 41.63</text>
<g class="cr">
<rect x="1645" y="628" width="1" height="1" fill="#000"/>
<rect x="1645" y="669" width="2" height="1" fill="#000"/>
<rect x="1645" y="731" width="1" height="1" fill="#000"/>
</g>
<text x="1648" y="637" font-size="9.75" fill="#000" stroke="#000" stroke-width="0.2" text-rendering="geometricPrecision" xml:space="preserve" textLength="28" lengthAdjust="spacingAndGlyphs">133.57</text>
<text x="1650" y="673" font-size="9.75" fill="#000" stroke="#000" stroke-width="0.2" text-rendering="geometricPrecision" xml:space="preserve" textLength="18" lengthAdjust="spacingAndGlyphs">0.00</text>
<text x="1648" y="729" font-size="9.75" fill="#000" stroke="#000" stroke-width="0.2" text-rendering="geometricPrecision" xml:space="preserve" textLength="31" lengthAdjust="spacingAndGlyphs">-199.79</text>
<g class="cr">
<line x1="6" y1="755.5" x2="1642" y2="755.5" stroke="#000" stroke-width="1" stroke-dasharray="3 3"/>
<line x1="6" y1="785.5" x2="1642" y2="785.5" stroke="#000" stroke-width="1" stroke-dasharray="3 3"/>
<line x1="6" y1="820.5" x2="1642" y2="820.5" stroke="#000" stroke-width="1" stroke-dasharray="3 3"/>
<rect x="1645" y="736" width="1" height="1" fill="#000"/>
<rect x="1645" y="835" width="1" height="1" fill="#000"/>
</g>
<polyline points="5,770.75 21,768.75 37,776.75 53,778 69,776.75 85,779.25 101,779.75 117,800.5 133,792 149,792 165,791 181,790.75 197,791 213,792.75 229,802.5 245,805 261,797 277,797 293,801.75 309,807.5 325,802 341,800 357,798.25 373,797.5 389,794.25 405,784.5 421,780.75 437,780.25 453,780.25 469,780 477,778.75 485,778.5 501,784 517,784 533,784.25 549,785 565,788.25 581,789.75 597,785.75 613,785 629,784.75 645,784.75 661,788.75 677,789 693,791.75 709,786.75 725,786.25 741,785 757,784 773,795 789,799.5 805,799 821,798 837,797.5 853,790.75 869,790 885,797.75 901,796.75 917,797.75 933,795.5 949,786.25 965,786.25 981,793.75 997,789.75 1013,791.5 1029,792.75 1045,791.75 1061,795.75 1077,800.5 1093,803.75 1109,800.75 1125,800.5 1141,800.5 1157,794 1173,789.5 1189,777.75 1205,779.25 1221,779.25 1237,777.5 1253,777.75 1269,783 1285,772.5 1301,772.5 1317,772.5 1333,772.5 1349,770.75 1365,784 1381,784" fill="none" stroke="#1e90ff" stroke-width="2" stroke-linejoin="round" shape-rendering="crispEdges" clip-path="url(#cs)"/>
<text x="9" y="747" font-size="9.75" fill="#000" stroke="#000" stroke-width="0.2" text-rendering="geometricPrecision" xml:space="preserve" textLength="68" lengthAdjust="spacingAndGlyphs">RSI(14) 51.9176</text>
<text x="1648" y="745" font-size="9.75" fill="#000" stroke="#000" stroke-width="0.2" text-rendering="geometricPrecision" xml:space="preserve" textLength="15" lengthAdjust="spacingAndGlyphs">100</text>
<text x="1647" y="759" font-size="9.75" fill="#000" stroke="#000" stroke-width="0.2" text-rendering="geometricPrecision" xml:space="preserve" textLength="10" lengthAdjust="spacingAndGlyphs">80</text>
<text x="1647" y="789" font-size="9.75" fill="#000" stroke="#000" stroke-width="0.2" text-rendering="geometricPrecision" xml:space="preserve" textLength="10" lengthAdjust="spacingAndGlyphs">50</text>
<text x="1647" y="824" font-size="9.75" fill="#000" stroke="#000" stroke-width="0.2" text-rendering="geometricPrecision" xml:space="preserve" textLength="10" lengthAdjust="spacingAndGlyphs">15</text>
<text x="1648" y="833" font-size="9.75" fill="#000" stroke="#000" stroke-width="0.2" text-rendering="geometricPrecision" xml:space="preserve" textLength="5" lengthAdjust="spacingAndGlyphs">0</text>
<g class="cr">
<rect x="5" y="837" width="1" height="3" fill="#000"/>
<rect x="69" y="837" width="1" height="3" fill="#000"/>
<rect x="133" y="837" width="1" height="3" fill="#000"/>
<rect x="197" y="837" width="1" height="3" fill="#000"/>
<rect x="261" y="837" width="1" height="3" fill="#000"/>
<rect x="325" y="837" width="1" height="3" fill="#000"/>
<rect x="389" y="837" width="1" height="3" fill="#000"/>
<rect x="453" y="837" width="1" height="3" fill="#000"/>
<rect x="517" y="837" width="1" height="3" fill="#000"/>
<rect x="581" y="837" width="1" height="3" fill="#000"/>
<rect x="645" y="837" width="1" height="3" fill="#000"/>
<rect x="709" y="837" width="1" height="3" fill="#000"/>
<rect x="773" y="837" width="1" height="3" fill="#000"/>
<rect x="837" y="837" width="1" height="3" fill="#000"/>
<rect x="901" y="837" width="1" height="3" fill="#000"/>
<rect x="965" y="837" width="1" height="3" fill="#000"/>
<rect x="1029" y="837" width="1" height="3" fill="#000"/>
<rect x="1093" y="837" width="1" height="3" fill="#000"/>
<rect x="1157" y="837" width="1" height="3" fill="#000"/>
<rect x="1221" y="837" width="1" height="3" fill="#000"/>
<rect x="1285" y="837" width="1" height="3" fill="#000"/>
<rect x="1349" y="837" width="1" height="3" fill="#000"/>
</g>
<text x="4" y="849" font-size="9.75" fill="#000" stroke="#000" stroke-width="0.2" text-rendering="geometricPrecision" xml:space="preserve" textLength="50" lengthAdjust="spacingAndGlyphs">1 May 2023</text>
<text x="68" y="849" font-size="9.75" fill="#000" stroke="#000" stroke-width="0.2" text-rendering="geometricPrecision" xml:space="preserve" textLength="53" lengthAdjust="spacingAndGlyphs">2 May 00:00</text>
<text x="132" y="849" font-size="9.75" fill="#000" stroke="#000" stroke-width="0.2" text-rendering="geometricPrecision" xml:space="preserve" textLength="53" lengthAdjust="spacingAndGlyphs">2 May 16:00</text>
<text x="196" y="849" font-size="9.75" fill="#000" stroke="#000" stroke-width="0.2" text-rendering="geometricPrecision" xml:space="preserve" textLength="53" lengthAdjust="spacingAndGlyphs">3 May 08:00</text>
<text x="260" y="849" font-size="9.75" fill="#000" stroke="#000" stroke-width="0.2" text-rendering="geometricPrecision" xml:space="preserve" textLength="53" lengthAdjust="spacingAndGlyphs">4 May 00:00</text>
<text x="324" y="849" font-size="9.75" fill="#000" stroke="#000" stroke-width="0.2" text-rendering="geometricPrecision" xml:space="preserve" textLength="53" lengthAdjust="spacingAndGlyphs">4 May 16:00</text>
<text x="388" y="849" font-size="9.75" fill="#000" stroke="#000" stroke-width="0.2" text-rendering="geometricPrecision" xml:space="preserve" textLength="53" lengthAdjust="spacingAndGlyphs">5 May 08:00</text>
<text x="452" y="849" font-size="9.75" fill="#000" stroke="#000" stroke-width="0.2" text-rendering="geometricPrecision" xml:space="preserve" textLength="53" lengthAdjust="spacingAndGlyphs">8 May 00:00</text>
<text x="516" y="849" font-size="9.75" fill="#000" stroke="#000" stroke-width="0.2" text-rendering="geometricPrecision" xml:space="preserve" textLength="53" lengthAdjust="spacingAndGlyphs">8 May 16:00</text>
<text x="580" y="849" font-size="9.75" fill="#000" stroke="#000" stroke-width="0.2" text-rendering="geometricPrecision" xml:space="preserve" textLength="53" lengthAdjust="spacingAndGlyphs">9 May 08:00</text>
<text x="644" y="849" font-size="9.75" fill="#000" stroke="#000" stroke-width="0.2" text-rendering="geometricPrecision" xml:space="preserve" textLength="58" lengthAdjust="spacingAndGlyphs">10 May 00:00</text>
<text x="708" y="849" font-size="9.75" fill="#000" stroke="#000" stroke-width="0.2" text-rendering="geometricPrecision" xml:space="preserve" textLength="58" lengthAdjust="spacingAndGlyphs">10 May 16:00</text>
<text x="772" y="849" font-size="9.75" fill="#000" stroke="#000" stroke-width="0.2" text-rendering="geometricPrecision" xml:space="preserve" textLength="58" lengthAdjust="spacingAndGlyphs">11 May 08:00</text>
<text x="836" y="849" font-size="9.75" fill="#000" stroke="#000" stroke-width="0.2" text-rendering="geometricPrecision" xml:space="preserve" textLength="58" lengthAdjust="spacingAndGlyphs">12 May 00:00</text>
<text x="900" y="849" font-size="9.75" fill="#000" stroke="#000" stroke-width="0.2" text-rendering="geometricPrecision" xml:space="preserve" textLength="58" lengthAdjust="spacingAndGlyphs">12 May 16:00</text>
<text x="964" y="849" font-size="9.75" fill="#000" stroke="#000" stroke-width="0.2" text-rendering="geometricPrecision" xml:space="preserve" textLength="58" lengthAdjust="spacingAndGlyphs">15 May 08:00</text>
<text x="1028" y="849" font-size="9.75" fill="#000" stroke="#000" stroke-width="0.2" text-rendering="geometricPrecision" xml:space="preserve" textLength="58" lengthAdjust="spacingAndGlyphs">16 May 00:00</text>
<text x="1092" y="849" font-size="9.75" fill="#000" stroke="#000" stroke-width="0.2" text-rendering="geometricPrecision" xml:space="preserve" textLength="58" lengthAdjust="spacingAndGlyphs">16 May 16:00</text>
<text x="1156" y="849" font-size="9.75" fill="#000" stroke="#000" stroke-width="0.2" text-rendering="geometricPrecision" xml:space="preserve" textLength="58" lengthAdjust="spacingAndGlyphs">17 May 08:00</text>
<text x="1220" y="849" font-size="9.75" fill="#000" stroke="#000" stroke-width="0.2" text-rendering="geometricPrecision" xml:space="preserve" textLength="58" lengthAdjust="spacingAndGlyphs">18 May 00:00</text>
<text x="1284" y="849" font-size="9.75" fill="#000" stroke="#000" stroke-width="0.2" text-rendering="geometricPrecision" xml:space="preserve" textLength="58" lengthAdjust="spacingAndGlyphs">18 May 16:00</text>
<text x="1348" y="849" font-size="9.75" fill="#000" stroke="#000" stroke-width="0.2" text-rendering="geometricPrecision" xml:space="preserve" textLength="58" lengthAdjust="spacingAndGlyphs">19 May 08:00</text>
<defs><pattern id="dz" width="2" height="2" patternUnits="userSpaceOnUse"><rect width="2" height="2" fill="#ffffff"/><rect width="1" height="1" fill="#f0f0f0"/><rect x="1" y="1" width="1" height="1" fill="#f0f0f0"/></pattern><linearGradient id="gp" x1="0" y1="0" x2="0" y2="1"><stop offset="0" stop-color="#6cf27c"/><stop offset="0.5" stop-color="#14e634"/><stop offset="1" stop-color="#08c020"/></linearGradient><linearGradient id="gb" x1="0" y1="0" x2="1" y2="1"><stop offset="0" stop-color="#fbe070"/><stop offset="0.45" stop-color="#f2c41a"/><stop offset="1" stop-color="#c08410"/></linearGradient><linearGradient id="gr" x1="0" y1="0" x2="0" y2="1"><stop offset="0" stop-color="#ea5a3a"/><stop offset="1" stop-color="#d42a12"/></linearGradient><radialGradient id="gc" cx="0.5" cy="0.5" r="0.5"><stop offset="0.64" stop-color="#f4f6fa"/><stop offset="0.7" stop-color="#2f86e6"/><stop offset="1" stop-color="#1452b8"/></radialGradient><linearGradient id="gcl" x1="0" y1="0" x2="0" y2="1"><stop offset="0" stop-color="#ffffff"/><stop offset="0.5" stop-color="#f2f4fa"/><stop offset="1" stop-color="#b8c2de"/></linearGradient><linearGradient id="gface" x1="0" y1="0" x2="1" y2="0"><stop offset="0" stop-color="#f4c830"/><stop offset="0.45" stop-color="#fcf080"/><stop offset="1" stop-color="#eeb820"/></linearGradient></defs>
<rect class="cr" x="5" y="2" width="1" height="21" fill="#a0a0a0"/>
<path d="M16.5,5.5 h7 l3,3 v9.3 a1,1 0 0 1 -1,1 h-9 a1,1 0 0 1 -1,-1 v-11.3 a1,1 0 0 1 1,-1 z" fill="#fcfcfc" stroke="#747474" stroke-width="1"/>
<path d="M23.5,5.8 v2.8 h2.8" fill="none" stroke="#747474" stroke-width="0.9"/>
<g class="cr" fill="#9a9a9a"><rect x="17" y="8" width="3" height="2"/><rect x="17" y="11" width="7" height="1"/><rect x="17" y="13" width="7" height="1"/><rect x="17" y="15" width="4" height="1"/></g>
<path class="cr" d="M23,11 h4 v4 h4 v4 h-4 v4 h-4 v-4 h-4 v-4 h4 z" fill="#0c8c1c"/>
<path class="cr" d="M24,12 h2 v4 h4 v2 h-4 v4 h-2 v-4 h-4 v-2 h4 z" fill="url(#gp)"/>
<text x="33.8" y="16.3" font-size="11.6" fill="#000" stroke="#000" stroke-width="0.25" textLength="36" lengthAdjust="spacing">新订单</text>
<path d="M87.4,6.2 L96.4,11.8 L97.7,14.6 L90,20.7 L82.1,14.9 L86,10.4 Z" fill="url(#gb)" stroke="#a86a08" stroke-width="0.9" stroke-linejoin="round"/>
<path d="M96.6,13 L97.3,14.5 L90.2,19.8 L89.4,18.6 Z" fill="#ece0a8"/>
<path d="M82.9,14.6 L89.6,19.4" fill="none" stroke="#fbe9a0" stroke-width="1.1"/>
<path d="M87.6,7.4 L95.6,12.4" fill="none" stroke="#fff0a8" stroke-width="0.7" opacity="0.7"/>
<path d="M112,6.4 L114.6,5.1 L122.4,5.1 L123,6.6 L123,15 L112,15 Z" fill="#1a94f4" stroke="#1668d0" stroke-width="0.7"/>
<path d="M112.3,6.6 L115.4,8 L115.4,15 L112.3,15 Z" fill="#08a4fc"/>
<path d="M115.4,8 L115.4,15" stroke="#d8f0ff" stroke-width="0.7"/><path d="M112.4,6.6 L115.4,8 L122.8,8" fill="none" stroke="#bfe4ff" stroke-width="0.6"/>
<rect x="117.2" y="9.5" width="4.6" height="1.2" fill="#e8f6ff"/>
<path d="M113,20.4 a2.4,2.4 0 0 1 -0.5,-4.7 a2.5,2.5 0 0 1 3.3,-1.4 a3,3 0 0 1 5.6,0.3 a2.3,2.3 0 0 1 3.2,1.5 a2.2,2.2 0 0 1 -0.8,4.3 z" fill="url(#gcl)" stroke="#3a5c9e" stroke-width="1.1"/>
<circle cx="146.1" cy="12.8" r="7.4" fill="none" stroke="#8aa8e8" stroke-width="1.1"/>
<circle cx="146.1" cy="12.8" r="4.6" fill="none" stroke="#86a4e6" stroke-width="1.1"/>
<path d="M146.1,12.8 L146.10,20.80 A8.0,8.0 0 0 0 150.69,19.35 Z" fill="#2c9c30" opacity="0.62"/><path d="M146.1,12.8 L150.69,19.35 A8.0,8.0 0 0 0 153.62,15.54 Z" fill="#2c9c30" opacity="0.48"/><path d="M146.1,12.8 L153.62,15.54 A8.0,8.0 0 0 0 153.83,10.73 Z" fill="#2c9c30" opacity="0.34"/><path d="M146.1,12.8 L153.83,10.73 A8.0,8.0 0 0 0 151.24,6.67 Z" fill="#2c9c30" opacity="0.22"/><path d="M146.1,12.8 L151.24,6.67 A8.0,8.0 0 0 0 146.10,4.80 Z" fill="#2c9c30" opacity="0.12"/>
<circle cx="146.1" cy="12.8" r="2" fill="#2a5cd0"/>
<rect x="146.1" y="13" width="1.1" height="7.9" fill="#1ea01e"/>
<path d="M165.2,12.2 L181,11.8 L174.2,20.9 L171.6,20.9 Z" fill="url(#gface)" stroke="#d8a018" stroke-width="0.7"/>
<ellipse cx="173" cy="9.8" rx="8.1" ry="2.5" fill="#5ab0e2" stroke="#2a86ba" stroke-width="0.7"/>
<path d="M169,9.3 a3.6,4.3 0 0 1 7.2,0 Z" fill="#74c0ea" stroke="#2a86ba" stroke-width="0.7"/>
<path d="M166.5,10.6 Q173,13 179.6,10.4" fill="none" stroke="#2a86ba" stroke-width="0.8"/>
<circle cx="177.5" cy="16.8" r="4.1" fill="#e02a10" stroke="#b81808" stroke-width="0.6"/>
<rect x="175.8" y="15.1" width="3.5" height="3.4" fill="#ffffff"/>
<text x="186" y="16.3" font-size="11.6" fill="#000" stroke="#000" stroke-width="0.25" textLength="47.6" lengthAdjust="spacing">自动交易</text>
<rect class="cr" x="241" y="0" width="1" height="25" fill="#a0a0a0"/>
<rect class="cr" x="242" y="0" width="1" height="25" fill="#ffffff"/>
<rect class="cr" x="245" y="3" width="3" height="1" fill="#a0a0a0"/>
<rect class="cr" x="245" y="5" width="3" height="1" fill="#a0a0a0"/>
<rect class="cr" x="245" y="7" width="3" height="1" fill="#a0a0a0"/>
<rect class="cr" x="245" y="9" width="3" height="1" fill="#a0a0a0"/>
<rect class="cr" x="245" y="11" width="3" height="1" fill="#a0a0a0"/>
<rect class="cr" x="245" y="13" width="3" height="1" fill="#a0a0a0"/>
<rect class="cr" x="245" y="15" width="3" height="1" fill="#a0a0a0"/>
<rect class="cr" x="245" y="17" width="3" height="1" fill="#a0a0a0"/>
<rect class="cr" x="245" y="19" width="3" height="1" fill="#a0a0a0"/>
<rect class="cr" x="245" y="21" width="3" height="1" fill="#a0a0a0"/>
<g class="cr" fill="#505050"><rect x="259" y="8" width="1" height="13"/><rect x="257" y="18" width="14" height="1"/><rect x="258" y="9" width="3" height="1"/><rect x="269" y="17" width="1" height="3"/></g><rect class="cr" x="259" y="7" width="1" height="1" fill="#505050"/>
<g class="cr" fill="#1a8a1a"><rect x="265" y="8" width="2" height="9"/><rect x="263" y="15" width="2" height="1"/><rect x="267" y="9" width="2" height="1"/></g>
<rect class="cr" x="279" y="1" width="25" height="22" fill="url(#dz)"/>
<rect class="cr" x="279" y="22" width="25" height="1" fill="#ffffff"/>
<rect class="cr" x="303" y="1" width="1" height="22" fill="#ffffff"/>
<rect class="cr" x="279" y="1" width="25" height="1" fill="#a0a0a0"/>
<rect class="cr" x="279" y="1" width="1" height="22" fill="#a0a0a0"/>
<g class="cr" fill="#505050"><rect x="287" y="8" width="1" height="13"/><rect x="285" y="18" width="14" height="1"/><rect x="286" y="9" width="3" height="1"/><rect x="297" y="17" width="1" height="3"/></g><rect class="cr" x="287" y="7" width="1" height="1" fill="#505050"/>
<rect class="cr" x="293" y="5" width="1" height="12" fill="#0a7a0a"/>
<rect x="291.5" y="7.5" width="4" height="7" fill="#3ee03e" stroke="#0a7a0a" stroke-width="1"/>
<g class="cr" fill="#505050"><rect x="315" y="8" width="1" height="13"/><rect x="313" y="18" width="14" height="1"/><rect x="314" y="9" width="3" height="1"/><rect x="325" y="17" width="1" height="3"/></g><rect class="cr" x="315" y="7" width="1" height="1" fill="#505050"/>
<path d="M314,16 C318,13 319,9 322,11 C324,12.5 325,14 327,14.5" fill="none" stroke="#1a8a1a" stroke-width="1.2"/>
<rect class="cr" x="336" y="2" width="1" height="21" fill="#a0a0a0"/>
<line x1="355.35" y1="15.4" x2="359.45" y2="19.200000000000003" stroke="#a8741a" stroke-width="3.4" stroke-linecap="butt"/>
<line x1="355.35" y1="15.4" x2="359.25" y2="19.0" stroke="#ecd62a" stroke-width="1.9" stroke-linecap="butt"/>
<circle cx="351.05" cy="10.8" r="5.45" fill="#d6eefa" stroke="#3a80c8" stroke-width="1.2"/>
<rect x="347.65000000000003" y="9.8" width="6.8" height="2" fill="#4a96b8"/>
<rect x="350.05" y="7.4" width="2" height="6.8" fill="#4a96b8"/>
<line x1="383.2" y1="15.4" x2="387.29999999999995" y2="19.200000000000003" stroke="#a8741a" stroke-width="3.4" stroke-linecap="butt"/>
<line x1="383.2" y1="15.4" x2="387.09999999999997" y2="19.0" stroke="#ecd62a" stroke-width="1.9" stroke-linecap="butt"/>
<circle cx="378.9" cy="10.8" r="5.45" fill="#d6eefa" stroke="#3a80c8" stroke-width="1.2"/>
<rect x="375.5" y="9.8" width="6.8" height="2" fill="#4a96b8"/>
<rect x="401" y="5" width="8" height="8" fill="#3a9a14"/>
<rect x="402.3" y="8.4" width="5.6" height="3.5" fill="#ffffff"/>
<rect x="403.3" y="9.2" width="3.6" height="0.9" fill="#9ad880"/>
<rect x="403.6" y="11.3" width="3" height="0.7" fill="#3a9a14"/>
<rect x="402.2" y="6.2" width="1" height="1" fill="#e8f4ff"/>
<rect x="409" y="5" width="8" height="8" fill="#1c4cd2"/>
<rect x="410.3" y="8.4" width="5.6" height="3.5" fill="#ffffff"/>
<rect x="411.3" y="9.2" width="3.6" height="0.9" fill="#90b0f0"/>
<rect x="411.6" y="11.3" width="3" height="0.7" fill="#1c4cd2"/>
<rect x="410.2" y="6.2" width="1" height="1" fill="#e8f4ff"/>
<rect x="401" y="13" width="8" height="8" fill="#1c4cd2"/>
<rect x="402.3" y="16.4" width="5.6" height="3.5" fill="#ffffff"/>
<rect x="403.3" y="17.2" width="3.6" height="0.9" fill="#90b0f0"/>
<rect x="403.6" y="19.3" width="3" height="0.7" fill="#1c4cd2"/>
<rect x="402.2" y="14.2" width="1" height="1" fill="#e8f4ff"/>
<rect x="409" y="13" width="8" height="8" fill="#3a9a14"/>
<rect x="410.3" y="16.4" width="5.6" height="3.5" fill="#ffffff"/>
<rect x="411.3" y="17.2" width="3.6" height="0.9" fill="#9ad880"/>
<rect x="411.6" y="19.3" width="3" height="0.7" fill="#3a9a14"/>
<rect x="410.2" y="14.2" width="1" height="1" fill="#e8f4ff"/>
<rect class="cr" x="426" y="2" width="1" height="21" fill="#a0a0a0"/>
<rect class="cr" x="431" y="1" width="25" height="22" fill="url(#dz)"/>
<rect class="cr" x="431" y="22" width="25" height="1" fill="#ffffff"/>
<rect class="cr" x="455" y="1" width="1" height="22" fill="#ffffff"/>
<rect class="cr" x="431" y="1" width="25" height="1" fill="#a0a0a0"/>
<rect class="cr" x="431" y="1" width="1" height="22" fill="#a0a0a0"/>
<g class="cr" fill="#505050"><rect x="439" y="8" width="1" height="13"/><rect x="437" y="18" width="14" height="1"/><rect x="438" y="9" width="3" height="1"/><rect x="449" y="17" width="1" height="3"/></g><rect class="cr" x="439" y="7" width="1" height="1" fill="#505050"/>
<polygon points="444.5,9 444.5,16 448.8,12.5" fill="#3ed03e" stroke="#0a8a0a" stroke-width="0.8"/>
<rect class="cr" x="459" y="1" width="25" height="22" fill="url(#dz)"/>
<rect class="cr" x="459" y="22" width="25" height="1" fill="#ffffff"/>
<rect class="cr" x="483" y="1" width="1" height="22" fill="#ffffff"/>
<rect class="cr" x="459" y="1" width="25" height="1" fill="#a0a0a0"/>
<rect class="cr" x="459" y="1" width="1" height="22" fill="#a0a0a0"/>
<g class="cr" fill="#505050"><rect x="467" y="8" width="1" height="13"/><rect x="465" y="18" width="14" height="1"/><rect x="466" y="9" width="3" height="1"/><rect x="477" y="17" width="1" height="3"/></g><rect class="cr" x="467" y="7" width="1" height="1" fill="#505050"/>
<rect class="cr" x="473" y="7" width="1" height="10" fill="#1a6fb8"/>
<path d="M474.5,12.5 l3.5,-2.6 l-0.8,2.1 h2 v1 h-2 l0.8,2.1 z" fill="#d83a0a"/>
<rect class="cr" x="488" y="2" width="1" height="21" fill="#a0a0a0"/>
<path d="M499.5,5.5 h7 l3,3 v9.3 a1,1 0 0 1 -1,1 h-9 a1,1 0 0 1 -1,-1 v-11.3 a1,1 0 0 1 1,-1 z" fill="#fcfcfc" stroke="#747474" stroke-width="1"/>
<path d="M506.5,5.8 v2.8 h2.8" fill="none" stroke="#747474" stroke-width="0.9"/>
<text x="500.6" y="14.2" font-size="9" fill="#55553f" font-style="italic" font-family="Liberation Serif,serif">f</text>
<path class="cr" d="M506,11 h4 v4 h4 v4 h-4 v4 h-4 v-4 h-4 v-4 h4 z" fill="#0c8c1c"/>
<path class="cr" d="M507,12 h2 v4 h4 v2 h-4 v4 h-2 v-4 h-4 v-2 h4 z" fill="url(#gp)"/>
<polygon points="520,12 525.4,12 522.7,14.8" fill="#000"/>
<circle cx="544.3" cy="13" r="8" fill="url(#gc)"/>
<path d="M544.3,8.6 v4.6 l3,1.4" fill="none" stroke="#2a2a2a" stroke-width="1.2"/>
<g fill="#8a96a8"><rect x="543.9" y="7" width="0.9" height="1"/><rect x="543.9" y="18" width="0.9" height="1"/><rect x="538.3" y="12.6" width="1" height="0.9"/><rect x="549.3" y="12.6" width="1" height="0.9"/></g>
<polygon points="559,12 564.4,12 561.7,14.8" fill="#000"/>
<rect x="575.5" y="6.5" width="15" height="13" fill="#ffffff" stroke="#2a62c8" stroke-width="1"/>
<rect x="575" y="6" width="16" height="2.5" fill="#3a78e0"/>
<rect class="cr" x="576" y="14" width="14" height="1" fill="#2a62c8"/>
<path d="M577,12.4 h2 l2,-1.6 h1.5 l1.5,1 h2 l1.5,-1.4 h1" fill="none" stroke="#a02808" stroke-width="1.4"/>
<path d="M577.6,17.4 h1.6 l1.4,-1 l1.6,1 h1.4 l2,-2 l2.4,2.4" fill="none" stroke="#1a8a1a" stroke-width="1.2"/>
<polygon points="598,12 603.4,12 600.7,14.8" fill="#000"/>
<rect class="cr" x="609" y="0" width="1" height="25" fill="#a0a0a0"/>
<rect class="cr" x="610" y="0" width="1" height="25" fill="#ffffff"/>
<rect class="cr" x="613" y="3" width="3" height="1" fill="#a0a0a0"/>
<rect class="cr" x="613" y="5" width="3" height="1" fill="#a0a0a0"/>
<rect class="cr" x="613" y="7" width="3" height="1" fill="#a0a0a0"/>
<rect class="cr" x="613" y="9" width="3" height="1" fill="#a0a0a0"/>
<rect class="cr" x="613" y="11" width="3" height="1" fill="#a0a0a0"/>
<rect class="cr" x="613" y="13" width="3" height="1" fill="#a0a0a0"/>
<rect class="cr" x="613" y="15" width="3" height="1" fill="#a0a0a0"/>
<rect class="cr" x="613" y="17" width="3" height="1" fill="#a0a0a0"/>
<rect class="cr" x="613" y="19" width="3" height="1" fill="#a0a0a0"/>
<rect class="cr" x="613" y="21" width="3" height="1" fill="#a0a0a0"/>
<rect class="cr" x="619" y="1" width="25" height="22" fill="url(#dz)"/>
<rect class="cr" x="619" y="22" width="25" height="1" fill="#ffffff"/>
<rect class="cr" x="643" y="1" width="1" height="22" fill="#ffffff"/>
<rect class="cr" x="619" y="1" width="25" height="1" fill="#a0a0a0"/>
<rect class="cr" x="619" y="1" width="1" height="22" fill="#a0a0a0"/>
<path d="M627,6 L627,17 L629.6,14.6 L632,20 L634,19.2 L631.6,13.8 L635,13.6 Z" fill="#505050"/>
<g class="cr" fill="#505050"><rect x="652" y="13" width="6" height="1"/><rect x="661" y="13" width="6" height="1"/><rect x="659" y="6" width="1" height="6"/><rect x="659" y="15" width="1" height="6"/><rect x="659" y="13" width="1" height="1"/></g>
<rect class="cr" x="676" y="2" width="1" height="21" fill="#a0a0a0"/>
<g class="cr" fill="#505050"><rect x="693" y="7" width="1" height="13"/><rect x="716" y="13" width="12" height="1"/></g>
<line x1="744" y1="20" x2="756.2" y2="7.8" stroke="#505050" stroke-width="1.1"/>
<g stroke="#505050" stroke-width="1.1" fill="none"><line x1="770" y1="15" x2="780" y2="6.5"/><line x1="772" y1="19" x2="783.5" y2="11"/><line x1="771.5" y1="17.5" x2="782" y2="8"/><line x1="774" y1="11" x2="775" y2="18"/><line x1="778" y1="8" x2="779" y2="15"/><line x1="781.5" y1="5.5" x2="782" y2="12"/></g>
<text x="781" y="22" font-size="7" font-weight="bold" fill="#222">E</text>
<line class="cr" x1="799" y1="6.5" x2="813" y2="6.5" stroke="#505050" stroke-width="1" stroke-dasharray="1 1"/>
<line class="cr" x1="799" y1="9.5" x2="813" y2="9.5" stroke="#505050" stroke-width="1" stroke-dasharray="1 1"/>
<line class="cr" x1="799" y1="13.5" x2="813" y2="13.5" stroke="#505050" stroke-width="1" stroke-dasharray="1 1"/>
<line class="cr" x1="799" y1="17.5" x2="808" y2="17.5" stroke="#505050" stroke-width="1" stroke-dasharray="1 1"/>
<text x="808.5" y="22" font-size="7" font-weight="bold" fill="#222">F</text>
<text x="829.6" y="18" font-size="12.3" fill="#505050" stroke="#505050" stroke-width="0.5">A</text>
<rect class="cr" x="856.5" y="7.5" width="11" height="12" fill="none" stroke="#505050" stroke-width="1" stroke-dasharray="1 1"/>
<g fill="#505050"><rect x="858" y="9.6" width="8.4" height="1.6"/><rect x="861.3" y="9.6" width="1.7" height="8.6"/></g>
<polygon points="883,10 886.5,6.8 890,10 886.5,11.8" fill="#505050"/>
<polygon points="890,17 893.5,20.2 897,17 893.5,15.2" fill="#505050"/>
<path d="M885.5,14 l2,2 l4.5,-5" fill="none" stroke="#505050" stroke-width="1.3"/>
<polygon points="904,12 909.4,12 906.7,14.8" fill="#000"/>
<rect class="cr" x="915" y="0" width="1" height="25" fill="#a0a0a0"/>
<rect class="cr" x="916" y="0" width="1" height="25" fill="#ffffff"/>
<rect class="cr" x="919" y="3" width="3" height="1" fill="#a0a0a0"/>
<rect class="cr" x="919" y="5" width="3" height="1" fill="#a0a0a0"/>
<rect class="cr" x="919" y="7" width="3" height="1" fill="#a0a0a0"/>
<rect class="cr" x="919" y="9" width="3" height="1" fill="#a0a0a0"/>
<rect class="cr" x="919" y="11" width="3" height="1" fill="#a0a0a0"/>
<rect class="cr" x="919" y="13" width="3" height="1" fill="#a0a0a0"/>
<rect class="cr" x="919" y="15" width="3" height="1" fill="#a0a0a0"/>
<rect class="cr" x="919" y="17" width="3" height="1" fill="#a0a0a0"/>
<rect class="cr" x="919" y="19" width="3" height="1" fill="#a0a0a0"/>
<rect class="cr" x="919" y="21" width="3" height="1" fill="#a0a0a0"/>
<rect class="cr" x="1065" y="1" width="25" height="22" fill="url(#dz)"/>
<rect class="cr" x="1065" y="22" width="25" height="1" fill="#ffffff"/>
<rect class="cr" x="1089" y="1" width="1" height="22" fill="#ffffff"/>
<rect class="cr" x="1065" y="1" width="25" height="1" fill="#a0a0a0"/>
<rect class="cr" x="1065" y="1" width="1" height="22" fill="#a0a0a0"/>
<text x="930.2" y="17" font-size="9.75" fill="#303030" stroke="#303030" stroke-width="0.2" text-rendering="geometricPrecision" textLength="14" lengthAdjust="spacingAndGlyphs">M1</text>
<text x="958.1" y="17" font-size="9.75" fill="#303030" stroke="#303030" stroke-width="0.2" text-rendering="geometricPrecision" textLength="14" lengthAdjust="spacingAndGlyphs">M5</text>
<text x="984.1" y="17" font-size="9.75" fill="#303030" stroke="#303030" stroke-width="0.2" text-rendering="geometricPrecision" textLength="19" lengthAdjust="spacingAndGlyphs">M15</text>
<text x="1011.8" y="17" font-size="9.75" fill="#303030" stroke="#303030" stroke-width="0.2" text-rendering="geometricPrecision" textLength="19" lengthAdjust="spacingAndGlyphs">M30</text>
<text x="1043" y="17" font-size="9.75" fill="#303030" stroke="#303030" stroke-width="0.2" text-rendering="geometricPrecision" textLength="13" lengthAdjust="spacingAndGlyphs">H1</text>
<text x="1070.6" y="17" font-size="9.75" fill="#303030" stroke="#303030" stroke-width="0.2" text-rendering="geometricPrecision" textLength="13" lengthAdjust="spacingAndGlyphs">H4</text>
<text x="1099.4" y="17" font-size="9.75" fill="#303030" stroke="#303030" stroke-width="0.2" text-rendering="geometricPrecision" textLength="13" lengthAdjust="spacingAndGlyphs">D1</text>
<text x="1127.4" y="17" font-size="9.75" fill="#303030" stroke="#303030" stroke-width="0.2" text-rendering="geometricPrecision" textLength="14.6" lengthAdjust="spacingAndGlyphs">W1</text>
<text x="1153.5" y="17" font-size="9.75" fill="#303030" stroke="#303030" stroke-width="0.2" text-rendering="geometricPrecision" textLength="15.8" lengthAdjust="spacingAndGlyphs">MN</text>
<rect class="cr" x="1176" y="0" width="1" height="25" fill="#a0a0a0"/>
<rect class="cr" x="1177" y="0" width="1" height="25" fill="#ffffff"/>
<line x1="1643.2" y1="13.4" x2="1638.8" y2="18" stroke="#2a5bd7" stroke-width="2.4" stroke-linecap="round"/>
<circle cx="1646.5" cy="10.3" r="3.9" fill="#ffffff" stroke="#2a5bd7" stroke-width="1.3"/>
<path d="M1664,15.5 a6.5,4.6 0 1 1 6,4.4 l-3,2 l0.6,-2.6 a6,4.6 0 0 1 -3.6,-3.8 z" fill="#e4e6f0" stroke="#b8b8b8" stroke-width="0.8"/>
<circle cx="1677.4" cy="10.3" r="8.4" fill="url(#gr)"/>
<text x="1677" y="14.8" font-size="12.5" fill="#fff" stroke="#fff" stroke-width="0.3" text-anchor="middle">1</text>
</svg></body></html>
